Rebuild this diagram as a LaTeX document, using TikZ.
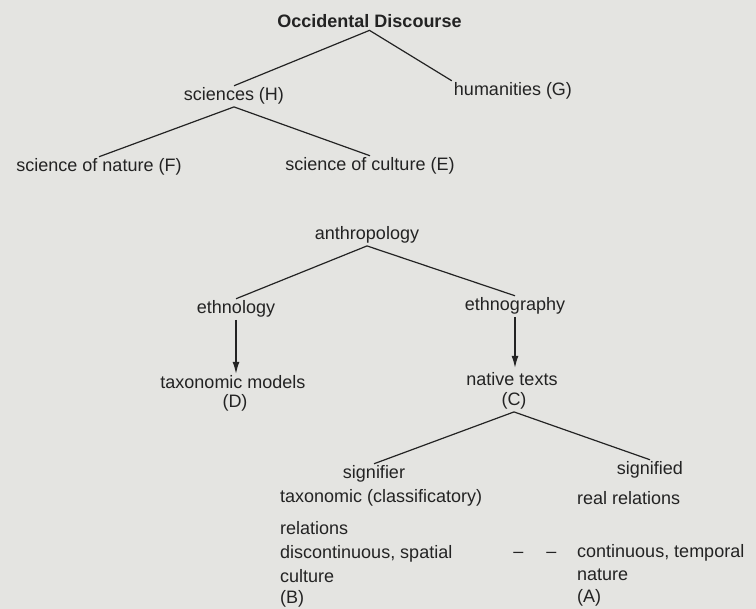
\documentclass[tikz,border=0pt]{standalone}
\usepackage{fontspec}
\setmainfont{Liberation Sans}
\usetikzlibrary{arrows.meta}

\definecolor{paper}{RGB}{228,228,225}
\definecolor{ink}{RGB}{35,35,35}

\tikzset{
  term/.style={font=\fontsize{18}{22}\selectfont, text=ink, anchor=base, inner sep=2pt},
  rowtext/.style={term, anchor=base west, inner sep=0pt},
  branch/.style={draw=ink, line width=1.2pt},
  leadsto/.style={draw=ink, line width=1.2pt, -{Latex[length=12pt,width=7pt]}},
}

\begin{document}
\begin{tikzpicture}[x=1pt, y=-1pt]
    % Background
    \fill[paper] (0,0) rectangle (756,609);
    \useasboundingbox (0,0) rectangle (756,609);

    % Discourse tree
    \node[term, font=\fontsize{18}{22}\selectfont\bfseries] (occ) at (369.5,28) {Occidental Discourse};
    \node[term] (sci) at (234,101) {sciences (H)};
    \node[term] (hum) at (513,96) {humanities (G)};
    \node[term] (nat) at (99,172) {science of nature (F)};
    \node[term] (cul) at (370,171) {science of culture (E)};

    \draw[branch] (sci.north) -- (occ.south) -- (hum.north west);
    \draw[branch] (nat.north) -- (sci.south) -- (cul.north);

    % Anthropology
    \node[term] (anth) at (367,240) {anthropology};
    \node[term] (ethl) at (236,314) {ethnology};
    \node[term] (ethg) at (515,311) {ethnography};
    \node[term] (taxm) at (233,389) {taxonomic models};
    \node[term] (dlab) at (235,408) {(D)};
    \node[term] (ntxt) at (512,386) {native texts};
    \node[term] (clab) at (514,406) {(C)};

    \draw[branch] (ethl.north) -- (anth.south) -- (ethg.north);
    \draw[leadsto] (ethl.south) -- (ethl.south |- taxm.north);
    \draw[leadsto, shorten >=3pt] (ethg.south) -- (ethg.south |- ntxt.north);

    % Sign
    \node[term] (sfr) at (374,479) {signifier};
    \node[term] (sfd) at (650,475) {signified};
    \draw[branch] (sfr.north) -- (clab.south) -- (sfd.north);

    % signifier column
    \node[rowtext] (l1) at (280,503) {taxonomic (classificatory)};
    \node[rowtext] (l2) at (280,535) {relations};
    \node[rowtext] (l3) at (280,559) {discontinuous, spatial};
    \node[rowtext] (l4) at (280,583) {culture};
    \node[rowtext] (l5) at (280,604) {(B)};

    % signified column
    \node[rowtext] (r1) at (577,505) {real relations};
    \node[rowtext] (r3) at (577,558) {continuous, temporal};
    \node[rowtext] (r4) at (577,581) {nature};
    \node[rowtext] (r5) at (577,603) {(A)};

    \node[term] (gap) at (535,558) {--\hspace{23pt}--};
\end{tikzpicture}
\end{document}
